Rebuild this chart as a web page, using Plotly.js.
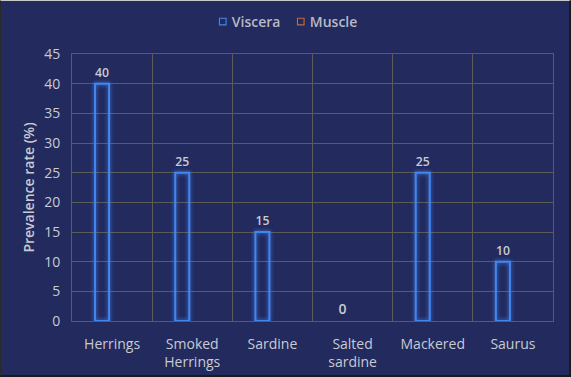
<!DOCTYPE html>
<html>
<head>
<meta charset="utf-8">
<script src="https://cdn.plot.ly/plotly-3.0.1.min.js"></script>
<style>
html,body{margin:0;padding:0;background:#222;}
#wrap{width:568px;height:374px;border-left:1px solid #2a2a2a;border-top:1px solid #c8c8c8;border-right:2px solid #1a1a1a;border-bottom:2px solid #1a1a1a;}
#chart{width:568px;height:374px;}
#chart .barlayer .point path{filter:drop-shadow(0 0 2px rgba(70,140,255,0.9));}
#chart .legend .legendpoints path{transform:translate(31px,0) scale(0.55);}
#chart .legend .scrollbox{clip-path:none !important;}
</style>
</head>
<body>
<div id="wrap"><div id="chart"></div></div>
<script>
const categories = ["Herrings", "Smoked<br>Herrings", "Sardine", "Salted<br>sardine", "Mackered", "Saurus"];
const viscera = [40, 25, 15, 0, 25, 10];
const muscle = [0, 0, 0, 0, 0, 0];
const yTicks = [0, 5, 10, 15, 20, 25, 30, 35, 40, 45];

const bg = "#222a5e";
const grid = "#5b5b58";
const txt = "#c9cad3";
const fontFam = "'Open Sans', Lato, sans-serif";

// zero-valued bars are not drawn in the reference
const lineW = vals => vals.map(v => (v === 0 ? 0 : 2));
const hideZero = vals => vals.map(v => (v === 0 ? null : v));

const traces = [
  {
    type: "bar", name: "Viscera", x: categories, y: viscera,
    text: viscera.map(String), textposition: "outside", cliponaxis: false,
    textfont: {color: txt, size: 14, family: fontFam, weight: 600},
    marker: {color: "rgba(0,0,0,0)", line: {color: "#4386ee", width: lineW(viscera)}},
    hoverinfo: "skip"
  },
  {
    type: "bar", name: "Muscle", x: categories, y: hideZero(muscle),
    marker: {color: "rgba(0,0,0,0)", line: {color: "#c8693a", width: 2}},
    hoverinfo: "skip"
  }
];

const layout = {
  width: 568, height: 374,
  paper_bgcolor: bg, plot_bgcolor: bg,
  margin: {l: 71, r: 16, t: 53, b: 54, autoexpand: false},
  barmode: "group", bargap: 0.5, bargroupgap: 0.3,
  font: {family: fontFam, color: txt, size: 14},
  showlegend: true,
  legend: {orientation: "h", x: 0.249, xanchor: "left", y: 1.12, yanchor: "middle",
           font: {size: 14, color: "#b8b9c4", weight: 600}, bgcolor: "rgba(0,0,0,0)",
           itemwidth: 30, entrywidth: 33, entrywidthmode: "pixels", tracegroupgap: 0},
  xaxis: {
    type: "category", tickson: "boundaries", showgrid: true, gridcolor: grid, gridwidth: 1,
    showline: true, linecolor: grid, mirror: true, ticks: "", ticklen: 0,
    ticklabelstandoff: 10,
    tickfont: {size: 14, color: txt}, fixedrange: true
  },
  yaxis: {
    range: [0, 45], tickvals: yTicks, showgrid: true, gridcolor: grid, gridwidth: 1,
    showline: true, linecolor: grid, mirror: true, zeroline: false, ticks: "",
    ticklabelstandoff: 8,
    tickfont: {size: 14, color: txt},
    title: {text: "Prevalence rate (%)", font: {size: 14, color: txt, weight: 600}, standoff: 6},
    fixedrange: true
  }
};

Plotly.newPlot("chart", traces, layout, {displayModeBar: false, staticPlot: true});
</script>
</body>
</html>
